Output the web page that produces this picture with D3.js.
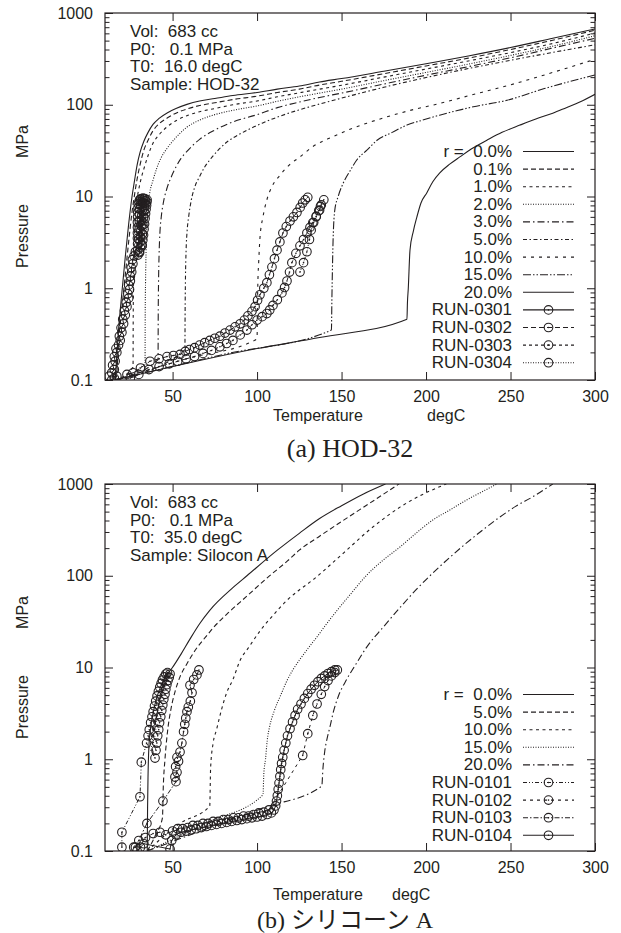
<!DOCTYPE html>
<html>
<head>
<meta charset="utf-8">
<script src="https://cdn.jsdelivr.net/npm/d3@7"></script>
<style>
  body { margin: 0; background: #fff; }
  text { font-family: "Liberation Sans", Arial, sans-serif; fill: #231f20; }
</style>
</head>
<body>
<script>
var width = 621;
var height = 933;
var ink = '#231f20';

// assi comuni
var xMin = 10, xMax = 300;
var yMin = 0.1, yMax = 1000;
var xTicks = [50, 100, 150, 200, 250, 300];
var yTicks = [0.1, 1, 10, 100, 1000];
var yTickLabels = ['0.1', '1', '10', '100', '1000'];

/**********************************************************
 * (a) HOD-32
 **********************************************************/
var infoA = ['Vol:  683 cc', 'P0:   0.1 MPa', 'T0:  16.0 degC', 'Sample: HOD-32'];
var captionA = '(a) HOD-32';
var modelNamesA = ['r =  0.0%', '0.1%', '1.0%', '2.0%', '3.0%', '5.0%', '10.0%', '15.0%', '20.0%'];
var runNamesA = ['RUN-0301', 'RUN-0302', 'RUN-0303', 'RUN-0304'];

var modelA_00 = [[16,0.1],[18,0.35],[20,0.9],[22,2.2],[24,5],[26,10],[27.5,15],[29,22],[30.7,30],[33,40],[35.5,50],[38.4,61],[42,71],[47,82],[52,91],[58.5,101],[66,110],[75,117],[85.7,126],[100,136],[112,148],[125,160],[137,177],[150,193],[175,232],[200,280],[225,340],[250,420],[275,530],[300,670]];
var modelA_01 = [[16,0.1],[17,0.12],[18,0.25],[20,0.6],[22,1.4],[24,3.2],[26,6.8],[27.5,10.5],[29,15.5],[30.7,22],[33,32],[35.5,41],[38.4,52],[42,62],[47,72],[52,81],[58.5,90],[66,98],[75,105],[85.7,114],[100,124],[112,136],[125,148],[137,164],[150,180],[175,218],[200,265],[225,322],[250,400],[275,505],[300,650]];
var modelA_1 = [[16,0.1],[26.6,0.138],[26.7,0.5],[26.9,1.2],[27.2,2.5],[27.7,5],[28.5,8],[30,12],[31.5,16],[33,20],[35.5,28],[38.4,38],[42,47],[47,58],[52,67],[58.5,76],[66,84],[75,91],[85.7,100],[100,110],[112,122],[125,135],[137,148],[150,163],[175,200],[200,245],[225,300],[250,370],[275,465],[300,605]];
var modelA_2 = [[16,0.1],[33.7,0.153],[33.8,0.5],[34,1.2],[34.3,2.5],[34.8,5],[35.5,8],[36.5,11],[38.4,15],[40.5,20],[43,26],[47,34],[52,44],[58.5,57],[66,68],[75,78],[85.7,87],[100,97],[112,109],[125,122],[137,134],[150,148],[175,183],[200,225],[225,277],[250,345],[275,435],[300,565]];
var modelA_3 = [[16,0.1],[41.4,0.167],[41.5,0.5],[41.7,1.2],[42,2.3],[42.5,4],[43.3,6],[44.5,8.5],[46.5,12],[49,16],[52,21],[55,26],[58.5,31],[66,42],[75,53],[85.7,65],[100,78],[112,93],[125,107],[137,120],[150,134],[175,168],[200,210],[225,260],[250,325],[275,415],[300,530]];
var modelA_5 = [[16,0.1],[57.3,0.214],[57.4,0.5],[57.6,1.2],[58,2.6],[58.6,4.2],[59.5,6],[61,9],[63,12.5],[66,16.5],[69,21],[72,25],[77,32],[82,39],[89,47],[96,55],[103,63],[110,71],[117,79],[125,88],[150,118],[175,155],[200,198],[225,248],[250,305],[275,372],[300,450]];
var modelA_10 = [[16,0.1],[58,0.17],[100,0.28],[100.2,0.6],[100.5,1.2],[101,2],[101.7,3.5],[103.5,6],[105.8,9.2],[109,13],[113.5,17],[119,22],[125.4,27],[133,35],[145,45],[155,54],[165,63],[175,72],[184.5,81],[194,90],[204,99],[225,125],[250,165],[275,225],[300,313]];
var modelA_15 = [[16,0.1],[80,0.19],[144,0.35],[144.3,0.8],[144.6,1.6],[145,3.4],[146,7.1],[148,10],[151,14],[155,19],[159,25],[165,32],[171,41],[180,50],[188.7,60],[198,68],[208,77],[218,86],[228,95],[248,112],[270,150],[300,211]];
var modelA_20 = [[16,0.1],[100,0.22],[137,0.29],[188.7,0.46],[189,0.7],[189.5,1],[190.5,2.6],[192.5,4.2],[194.6,6],[197,8.5],[200.5,11],[204,14.5],[208,18],[214,22.5],[220,27],[228,34],[236,41],[245,50],[255.6,60],[265,70],[275,81],[283,93],[291,107],[300,130]];

var runA_0301 = [[12.5,0.11],[14,0.1],[15.5,0.105],[17,0.11],[14,0.12],[15.5,0.13],[14.5,0.145],[16,0.16],[15.5,0.18],[17,0.2],[16.5,0.22],[18,0.24],[19,0.27],[18.5,0.3],[20,0.33],[19.5,0.37],[21,0.41],[20.5,0.46],[22,0.51],[21.5,0.57],[23,0.63],[22.5,0.7],[24,0.78],[23.5,0.87],[24.5,0.97],[24,1.08],[25,1.2],[25,1.35],[25.8,1.5],[25.5,1.68],[26.5,1.85],[26.2,2.05],[27.2,2.25],[28,2.5],
  [29.5,2.3],[30.5,2.45],[29.3,2.6],[31,2.75],[32,2.9],[29.3,3.05],[30.8,3.2],[32.4,3.35],[29.2,3.5],[31,3.65],[32.8,3.8],[29.2,4.0],[31.2,4.2],[33.1,4.4],[29.2,4.6],[31.4,4.8],[33.4,5.0],[29.2,5.25],[31.6,5.5],[33.7,5.75],[29.3,6.0],[31.8,6.25],[34,6.5],[29.4,6.75],[32,7.0],[34.3,7.25],[29.5,7.5],[32.1,7.75],[34.6,8.0],[29.7,8.25],[32.3,8.5],[34.8,8.7],[30.2,8.9],[32.6,9.1],[34.9,9.2],[31.2,9.4],[33.5,9.5],[32.4,9.6],
  [30.6,9.3],[33.9,9.0],[31.4,8.8],[33.6,8.4],[31,8.1],[33.3,7.7],[30.6,7.3],[33.1,6.9],[30.4,6.4],[32.8,5.9],[30.3,5.4],[32.4,4.9],[30.2,4.4],[32.1,3.9],[30.1,3.4],[31.8,3.0],[30.3,2.5]];
var runA_0302 = [[23,0.115],[26.6,0.12],[31,0.135],[36.6,0.16],[42,0.17],[46.7,0.18],[50.5,0.185],[54.4,0.19],[57.5,0.205],[60,0.215],[63,0.225],[66,0.24],[69,0.255],[72,0.27],[75,0.285],[78,0.3],[81,0.325],[84,0.35],[87,0.38],[90,0.41],[92.5,0.45],[94.6,0.5],[97,0.56],[98.8,0.63],[100.3,0.74],[101.7,0.85],[104,1.0],[105.8,1.15],[107.3,1.4],[108.8,1.7],[110.3,2.1],[111.8,2.6],[113.5,3.2],[115.3,4],[117.3,4.7],[119.5,5.4],[121.5,6],[123.6,6.7],[125.5,7.6],[127,8.5],[128.5,9.2],[130,9.8]];
var runA_0303 = [[25,0.105],[30,0.115],[36,0.13],[42,0.14],[48,0.15],[53,0.16],[58,0.17],[63,0.18],[68,0.195],[73,0.21],[78,0.23],[82,0.25],[85.7,0.27],[90,0.31],[94,0.35],[97,0.4],[100,0.45],[103,0.49],[105.8,0.53],[107.5,0.58],[109.4,0.65],[112,0.75],[114.7,0.89],[116.3,1.02],[117.7,1.2],[119.2,1.5],[120.6,1.9],[123,2.4],[125.4,2.9],[127.5,3.4],[129.5,4],[131.3,4.6],[133,5.2],[135,6.1],[137,7.1],[137.5,7.8]];
var runA_0304 = [[125.4,1.5],[127.5,1.9],[129.5,2.5],[131,3.4],[132,4.3],[133.5,5.2],[135,6],[136.5,7],[138,8.1],[139.5,9.2]];

/**********************************************************
 * (b) シリコーン A
 **********************************************************/
var infoB = ['Vol:  683 cc', 'P0:   0.1 MPa', 'T0:  35.0 degC', 'Sample: Silocon A'];
var captionB = '(b) シリコーン A';
var modelNamesB = ['r =  0.0%', '5.0%', '10.0%', '15.0%', '20.0%'];
var runNamesB = ['RUN-0101', 'RUN-0102', 'RUN-0103', 'RUN-0104'];

var modelB_0 = [[35,0.1],[35.2,0.3],[35.5,0.7],[36,1.4],[37,2.2],[38.5,3.2],[40.5,4.6],[43,6.2],[46,8],[49.6,9.8],[55,14],[60,20],[66,30],[72,42],[86,75],[94,100],[112,190],[125,290],[137,420],[150,580],[163,780],[176,1000]];
var modelB_5 = [[35,0.1],[40,0.15],[44,0.23],[44.5,0.5],[45.5,1],[47,2],[49,3.5],[51.5,5.5],[54.5,8],[58.5,11],[64,16],[70,22],[74,27],[82,38],[94,60],[106,95],[118,145],[125,190],[137,270],[150,390],[165,590],[184,1000]];
var modelB_10 = [[35,0.1],[54.4,0.2],[72,0.31],[72.5,0.8],[74,1.5],[76,2.1],[79,3.5],[82,5.3],[85.7,7.4],[90,12],[95,16.5],[101.7,25],[110,38],[117.7,54],[125,70],[133,90],[145,140],[155,205],[165,300],[175,420],[184.6,560],[198,770],[212,1000]];
var modelB_15 = [[35,0.1],[72,0.21],[103.5,0.41],[104,0.7],[105,1],[106,1.6],[107.5,2.3],[110,3.3],[114,5],[117.7,7.2],[121,9.3],[125.4,12.3],[130,16],[135.4,21.5],[140,28],[145,37],[155,62],[165,102],[175,150],[184.6,206],[194,290],[204,405],[214,520],[224,670],[233,820],[242,1000]];
var modelB_20 = [[35,0.1],[72,0.18],[105,0.3],[138.3,0.51],[139,0.8],[140,1.2],[141.5,1.7],[143,2.2],[145,3.2],[148,4.8],[153,7.4],[158,10.5],[165,16.8],[175,28],[184.6,45],[194,70],[204,107],[214,158],[224,228],[234,320],[243.7,437],[253,570],[263,722],[275,1000]];

var runB_0101 = [[20,0.11],[20,0.16],[30.7,0.39],[31.5,0.93],[34.6,1.5],[39.6,1.03],[35.5,1.8],[40.2,1.25],[36.2,2.1],[40.7,1.5],[37,2.5],[41.2,1.8],[37.8,2.9],[41.8,2.1],[38.5,3.3],[42.3,2.5],[39.3,3.8],[43,2.9],[40,4.3],[43.6,3.4],[40.8,4.9],[44.2,3.9],[41.6,5.5],[44.8,4.5],[42.4,6.1],[45.5,5.1],[43.2,6.7],[46,5.8],[44,7.3],[46.6,6.5],[45,7.9],[47.3,7.2],[46,8.5],[48,7.8],[47,8.8],[48.5,8.5]];
var runB_0102 = [[27,0.11],[30,0.13],[34,0.14],[38.5,0.155],[42.5,0.16],[46,0.15],[50,0.165],[53,0.175],[56,0.175],[59,0.18],[62,0.19],[65,0.19],[68,0.2],[71,0.2],[74,0.21],[77,0.21],[80,0.22],[83,0.22],[86,0.23],[89,0.23],[92,0.24],[95,0.24],[98,0.25],[101,0.26],[104,0.265],[107,0.28],[127,1.1],[130,1.9],[133,3.0],[135.5,4.0],[138,5.1],[140,6.2],[142,7.2],[144,8.1],[146,8.8],[147.5,9.4]];
var runB_0103 = [[28,0.11],[34.8,0.2],[44.3,0.35],[52,0.57],[51.4,0.64],[52.6,0.72],[51.8,0.83],[53.5,0.95],[52.6,1.05],[54.4,1.2],[55.5,1.5],[56.5,2.0],[57.2,2.4],[57.8,2.8],[58.5,3.3],[59.3,3.7],[60.5,4.3],[61.5,5.3],[60.3,6.4],[62.5,7.4],[64.4,8.3],[65.6,9.4]];
var runB_0104 = [[29,0.1],[31,0.11],[33,0.12],[48.5,0.105],[49.5,0.13],[52,0.15],[55,0.16],[58,0.165],[61,0.17],[64,0.175],[67,0.18],[70,0.185],[73,0.19],[76,0.195],[79,0.2],[82,0.205],[85,0.21],[88,0.215],[91,0.22],[94,0.225],[97,0.23],[100,0.235],[103,0.24],[106,0.25],[108.5,0.26],[110,0.28],[111,0.31],[111.5,0.35],[112,0.4],[112.5,0.47],[113,0.55],[113.5,0.65],[114,0.77],[114.5,0.9],[115.2,1.05],[116,1.25],[117,1.5],[118,1.8],[119.5,2.15],[121,2.55],[122.5,3.0],[124,3.5],[126,4.0],[128,4.6],[130,5.2],[132,5.8],[134,6.4],[136,7.0],[138,7.6],[140,8.1],[142,8.6],[144,9.0],[146,9.4]];

// stili delle linee (tratteggi)
var dashA = ['none', '5,3', '3,3.5', '1,1.5', '7,3,1.5,3', '4,2.5,1.5,2.5', '3,5', '8,2,1.5,2,1.5,2', 'none'];
var runDashA = ['none', '5,3', '3,3', '1,1.5'];
var dashB = ['none', '5,3', '3,3.5', '1,1.5', '7,3,1.5,3'];
var runDashB = ['4,2,1,2,1,2', '3,4', '5,2,1.5,2', 'none'];

var svg = d3.select('body').append('svg')
  .attr('width', width)
  .attr('height', height);

var plotLeft = 105, plotRight = 595, plotH = 367;

drawPanel({
  id: 'a', top: 13,
  models: [modelA_00, modelA_01, modelA_1, modelA_2, modelA_3, modelA_5, modelA_10, modelA_15, modelA_20],
  modelNames: modelNamesA, dash: dashA,
  runs: [runA_0301, runA_0302, runA_0303, runA_0304],
  runNames: runNamesA, runDash: runDashA,
  info: infoA, legendY: 157,
  xTitleY: 421, degX: 427,
  caption: captionA, captionX: 350, captionY: 457, captionSize: 26
});

drawPanel({
  id: 'b', top: 484,
  models: [modelB_0, modelB_5, modelB_10, modelB_15, modelB_20],
  modelNames: modelNamesB, dash: dashB,
  runs: [runB_0101, runB_0102, runB_0103, runB_0104],
  runNames: runNamesB, runDash: runDashB,
  info: infoB, legendY: 700,
  xTitleY: 900, degX: 392,
  caption: captionB, captionX: 345, captionY: 928, captionSize: 24
});

// disegna un pannello completo
function drawPanel(p) {
  var x = d3.scaleLinear().domain([xMin, xMax]).range([plotLeft, plotRight]);
  var y = d3.scaleLog().domain([yMin, yMax]).range([p.top + plotH, p.top]);
  var g = svg.append('g').attr('class', 'panel-' + p.id);

  svg.append('clipPath').attr('id', 'clip-' + p.id)
    .append('rect')
    .attr('x', plotLeft).attr('y', p.top)
    .attr('width', plotRight - plotLeft).attr('height', plotH);

  var smooth = d3.line()
    .curve(d3.curveMonotoneX)
    .x(function (d) { return x(d[0]); })
    .y(function (d) { return y(d[1]); });
  var line = d3.line()
    .x(function (d) { return x(d[0]); })
    .y(function (d) { return y(d[1]); });

  var plot = g.append('g').attr('clip-path', 'url(#clip-' + p.id + ')');

  // curve del modello
  p.models.forEach(function (data, i) {
    plot.append('path')
      .datum(data)
      .attr('d', smooth)
      .style('fill', 'none')
      .style('stroke', ink)
      .style('stroke-width', 1.1)
      .style('stroke-dasharray', p.dash[i]);
  });

  // misure
  p.runs.forEach(function (data, i) {
    plot.append('path')
      .datum(data)
      .attr('d', line)
      .style('fill', 'none')
      .style('stroke', ink)
      .style('stroke-width', 1)
      .style('stroke-dasharray', p.runDash[i]);
    drawMarks(plot, data.map(function (d) { return [x(d[0]), y(d[1])]; }));
  });

  // assi
  var minor = [];
  [0.1, 1, 10, 100].forEach(function (dec) {
    for (var k = 2; k <= 9; k++) minor.push(dec * k);
  });

  var axisStyle = function (sel) {
    sel.select('.domain').remove();
    sel.selectAll('line').style('stroke', ink).style('stroke-width', 1);
    sel.selectAll('text').style('font-size', '16px').style('fill', ink)
      .style('font-family', '"Liberation Sans", Arial, sans-serif');
  };

  g.append('g').attr('transform', 'translate(' + plotLeft + ',0)')
    .call(d3.axisLeft(y).tickValues(yTicks).tickSize(-8).tickPadding(12)
      .tickFormat(function (d, i) { return yTickLabels[i]; }))
    .call(axisStyle);
  g.append('g').attr('transform', 'translate(' + plotLeft + ',0)')
    .call(d3.axisLeft(y).tickValues(minor).tickSize(-4.5).tickFormat(''))
    .call(axisStyle);
  g.append('g').attr('transform', 'translate(' + plotRight + ',0)')
    .call(d3.axisRight(y).tickValues(yTicks).tickSize(-8).tickFormat(''))
    .call(axisStyle);
  g.append('g').attr('transform', 'translate(' + plotRight + ',0)')
    .call(d3.axisRight(y).tickValues(minor).tickSize(-4.5).tickFormat(''))
    .call(axisStyle);
  g.append('g').attr('transform', 'translate(0,' + (p.top + plotH) + ')')
    .call(d3.axisBottom(x).tickValues(xTicks).tickSize(-8).tickPadding(11)
      .tickFormat(d3.format('d')))
    .call(axisStyle);
  g.append('g').attr('transform', 'translate(0,' + p.top + ')')
    .call(d3.axisTop(x).tickValues(xTicks).tickSize(-8).tickFormat(''))
    .call(axisStyle);

  g.append('rect')
    .attr('x', plotLeft).attr('y', p.top)
    .attr('width', plotRight - plotLeft).attr('height', plotH)
    .style('fill', 'none').style('stroke', ink).style('stroke-width', 1.2);

  // titoli degli assi
  g.append('text')
    .attr('transform', 'translate(28,' + (p.top + 255) + ') rotate(-90)')
    .style('font-size', '16px')
    .text('Pressure');
  g.append('text')
    .attr('transform', 'translate(28,' + (p.top + 112) + ') rotate(-90)')
    .attr('text-anchor', 'end')
    .style('font-size', '16px')
    .text('MPa');
  g.append('text')
    .attr('x', 273).attr('y', p.xTitleY)
    .style('font-size', '16px')
    .text('Temperature');
  g.append('text')
    .attr('x', p.degX).attr('y', p.xTitleY)
    .style('font-size', '16px')
    .text('degC');

  // didascalia
  g.append('text')
    .attr('x', p.captionX).attr('y', p.captionY)
    .attr('text-anchor', 'middle')
    .style('font-family', '"Liberation Serif", "Times New Roman", "Noto Sans CJK JP", serif')
    .style('font-size', p.captionSize + 'px')
    .text(p.caption);

  // riquadro informativo
  p.info.forEach(function (t, i) {
    g.append('text')
      .attr('x', 130).attr('y', p.top + 24 + i * 17.7)
      .style('font-size', '17px')
      .style('white-space', 'pre')
      .text(t);
  });

  // legenda
  var rowH = 17.6;
  var names = p.modelNames.concat(p.runNames);
  names.forEach(function (name, i) {
    var yy = p.legendY + i * rowH;
    var isRun = i >= p.modelNames.length;
    var dash = isRun ? p.runDash[i - p.modelNames.length] : p.dash[i];
    g.append('text')
      .attr('x', 512).attr('y', yy)
      .attr('text-anchor', 'end')
      .style('font-size', '17px')
      .style('white-space', 'pre')
      .text(name);
    g.append('line')
      .attr('x1', 523).attr('x2', 574)
      .attr('y1', yy - 5.5).attr('y2', yy - 5.5)
      .style('stroke', ink)
      .style('stroke-width', 1.1)
      .style('stroke-dasharray', dash);
    if (isRun) drawMarks(g, [[548.5, yy - 5.5]]);
  });
}

// cerchietti con il punto centrale
function drawMarks(sel, pts) {
  var m = sel.append('g');
  m.selectAll('circle.o')
    .data(pts)
    .enter()
    .append('circle')
    .attr('class', 'o')
    .attr('cx', function (d) { return d[0]; })
    .attr('cy', function (d) { return d[1]; })
    .attr('r', 4.3)
    .style('fill', 'none')
    .style('stroke', ink)
    .style('stroke-width', 1.1);
  m.selectAll('circle.c')
    .data(pts)
    .enter()
    .append('circle')
    .attr('class', 'c')
    .attr('cx', function (d) { return d[0]; })
    .attr('cy', function (d) { return d[1]; })
    .attr('r', 0.8)
    .style('fill', ink);
}
</script>
</body>
</html>
